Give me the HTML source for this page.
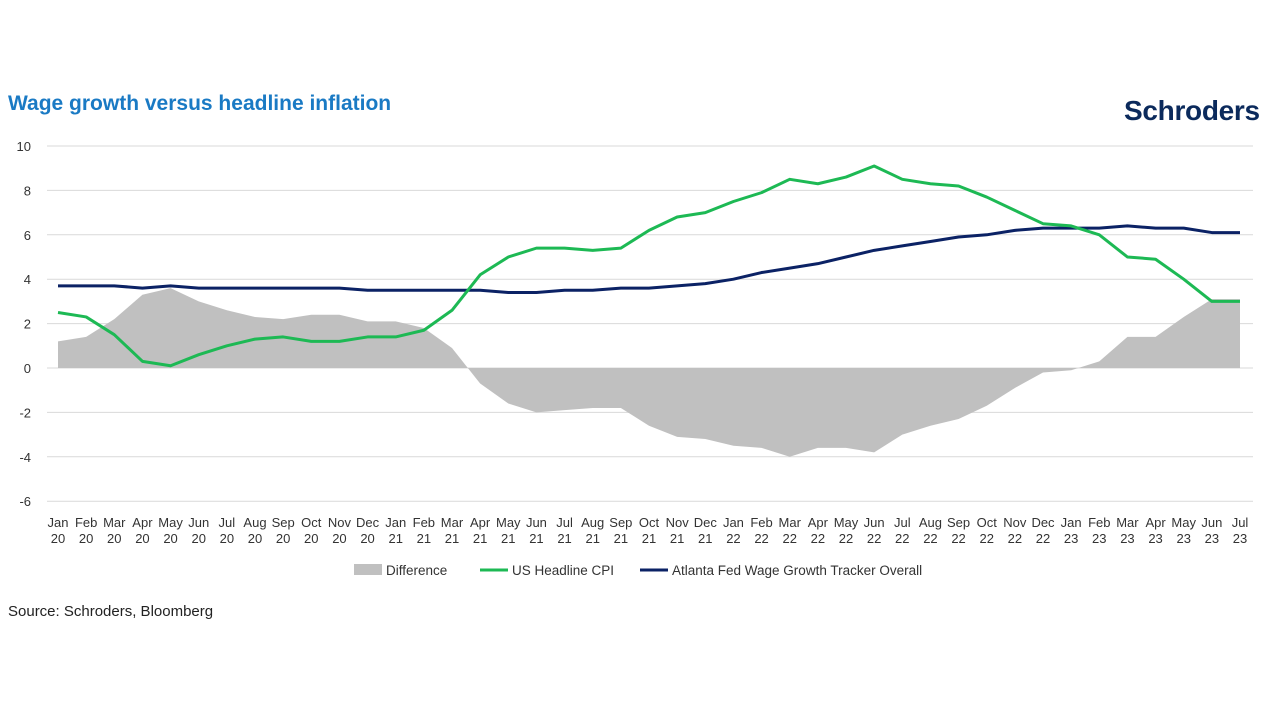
<!DOCTYPE html>
<html><head><meta charset="utf-8">
<style>
body{margin:0;background:#fff;width:1280px;height:720px;overflow:hidden;font-family:"Liberation Sans",sans-serif}
#title{position:absolute;left:8px;top:92px;font-size:21px;font-weight:bold;color:#1a7ac4}
#logo{position:absolute;left:1124px;top:95px;font-size:28px;font-weight:bold;color:#0b2a5c;letter-spacing:-0.3px}
#source{position:absolute;left:8px;top:603px;font-size:15px;color:#222}
svg{position:absolute;left:0;top:0}
</style></head><body>
<div id="title">Wage growth versus headline inflation</div>
<div id="logo">Schroders</div>
<div id="source">Source: Schroders, Bloomberg</div>
<svg id="chart" width="1280" height="720"></svg>
<script>
const months=["Jan","Feb","Mar","Apr","May","Jun","Jul","Aug","Sep","Oct","Nov","Dec"];
const categories=[];
for(let y=20;y<=23;y++)for(let m=0;m<12;m++){if(y===23&&m>6)break;categories.push(months[m]+" "+y);}
const cpi=[2.5,2.3,1.5,0.3,0.1,0.6,1.0,1.3,1.4,1.2,1.2,1.4,1.4,1.7,2.6,4.2,5.0,5.4,5.4,5.3,5.4,6.2,6.8,7.0,7.5,7.9,8.5,8.3,8.6,9.1,8.5,8.3,8.2,7.7,7.1,6.5,6.4,6.0,5.0,4.9,4.0,3.0,3.0];
const wage=[3.7,3.7,3.7,3.6,3.7,3.6,3.6,3.6,3.6,3.6,3.6,3.5,3.5,3.5,3.5,3.5,3.4,3.4,3.5,3.5,3.6,3.6,3.7,3.8,4.0,4.3,4.5,4.7,5.0,5.3,5.5,5.7,5.9,6.0,6.2,6.3,6.3,6.3,6.4,6.3,6.3,6.1,6.1];
const diff=[1.2,1.4,2.2,3.3,3.6,3.0,2.6,2.3,2.2,2.4,2.4,2.1,2.1,1.8,0.9,-0.7,-1.6,-2.0,-1.9,-1.8,-1.8,-2.6,-3.1,-3.2,-3.5,-3.6,-4.0,-3.6,-3.6,-3.8,-3.0,-2.6,-2.3,-1.7,-0.9,-0.2,-0.1,0.3,1.4,1.4,2.3,3.1,3.1];
const yTicks=[10,8,6,4,2,0,-2,-4,-6];
const NS="http://www.w3.org/2000/svg";
const svg=document.getElementById('chart');
const x=i=>58+i*(1240-58)/(categories.length-1);
const y=v=>368-v*22.2;
function el(t,a){const e=document.createElementNS(NS,t);for(const k in a)e.setAttribute(k,a[k]);svg.appendChild(e);return e;}
yTicks.forEach(v=>{
 const g=el('line',{x1:47,x2:1253,y1:y(v),y2:y(v),stroke:'#d9d9d9','stroke-width':1});
 
 
 const t=el('text',{x:31,y:y(v)+5,'text-anchor':'end','font-size':13,fill:'#333'});
 t.textContent=v;
 
 
});
let d='M'+x(0)+','+y(0);
diff.forEach((v,i)=>d+=' L'+x(i)+','+y(v));
d+=' L'+x(diff.length-1)+','+y(0)+' Z';
const area=el('path',{d:d,fill:'#c0c0c0'});


function line(arr,c,name){
 const p=el('polyline',{points:arr.map((v,i)=>x(i)+','+y(v)).join(' '),fill:'none',stroke:c,'stroke-width':3,'stroke-linejoin':'round'});
 
 
}
line(wage,'#0b2265','wage-line');
line(cpi,'#1db954','cpi-line');
categories.forEach((c,i)=>{
 const [m,yr]=c.split(' ');
 const t=el('text',{x:x(i),y:527,'text-anchor':'middle','font-size':13,fill:'#333'});
 t.textContent=m;
 
 
 const t2=el('text',{x:x(i),y:543,'text-anchor':'middle','font-size':13,fill:'#333'});
 t2.textContent=yr;
 
 
});
const leg=[['Difference','rect','#c0c0c0',354],['US Headline CPI','line','#1db954',480],['Atlanta Fed Wage Growth Tracker Overall','line','#0b2265',640]];
leg.forEach(l=>{
 let m;
 if(l[1]==='rect')m=el('rect',{x:l[3],y:564,width:28,height:11,fill:l[2]});
 else m=el('line',{x1:l[3],x2:l[3]+28,y1:570,y2:570,stroke:l[2],'stroke-width':3});
 
 
 const t=el('text',{x:l[3]+32,y:575,'font-size':13.5,fill:'#333'});
 t.textContent=l[0];
 
 
});
</script>
</body></html>
